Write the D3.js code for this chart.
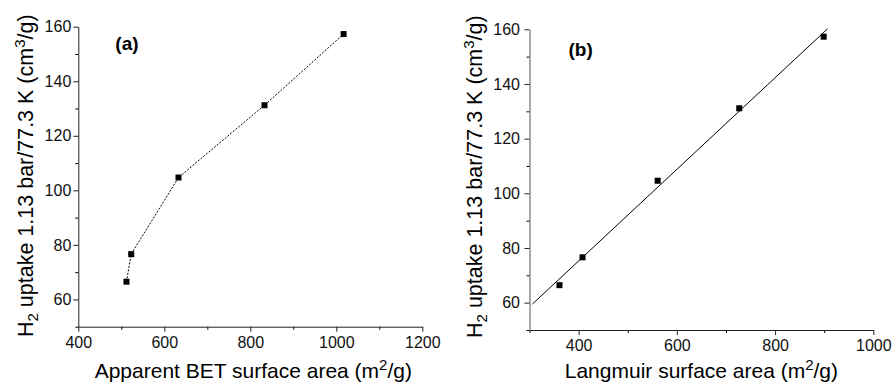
<!DOCTYPE html>
<html>
<head>
<meta charset="utf-8">
<script src="https://cdn.jsdelivr.net/npm/d3@7"></script>
<style>
  body { margin: 0; background: #fff; }
  svg { font-family: 'Liberation Sans', Arial, sans-serif; }
</style>
</head>
<body>
<div id="chart"></div>
<script>
// panel (a): BET surface area vs H2 uptake
const betArea = [512, 523, 633, 833, 1017];
const betUptake = [66.5, 76.6, 104.7, 131.2, 157.3];

// panel (b): Langmuir surface area vs H2 uptake
const langArea = [361, 408, 561, 727, 899];
const langUptake = [66.4, 76.6, 104.6, 131.1, 157.3];
// linear fit end points
const fitArea = [306, 907];
const fitUptake = [59.5, 160.2];

const yMajor = [60, 80, 100, 120, 140, 160];
const yMinor = [50, 70, 90, 110, 130, 150];
const aMajor = [400, 600, 800, 1000, 1200];
const aMinor = [500, 700, 900, 1100];
const bMajor = [400, 600, 800, 1000];
const bMinor = [300, 500, 700, 900];

const width = 896;
const height = 385;

const svg = d3.select('#chart').append('svg')
    .attr('width', width)
    .attr('height', height);

function drawPanel(p) {
    const g = svg.append('g')
        .attr('transform', `translate(${p.left},${p.top})`);

    const x = d3.scaleLinear().domain(p.xDomain).range([0, p.w]);
    const y = d3.scaleLinear().domain([50, 160]).range([p.h, 0]);

    // minor ticks
    g.append('g')
        .attr('transform', `translate(0,${p.h})`)
        .call(d3.axisBottom(x).tickValues(p.xMinor).tickSize(3).tickSizeOuter(0).tickFormat(''))
        .call(s => s.select('.domain').remove());
    g.append('g')
        .call(d3.axisLeft(y).tickValues(yMinor).tickSize(3).tickSizeOuter(0).tickFormat(''))
        .call(s => s.select('.domain').remove());

    const xAxis = g.append('g')
        .attr('transform', `translate(0,${p.h})`)
        .call(d3.axisBottom(x).tickValues(p.xMajor).tickSize(5).tickSizeOuter(0)
            .tickPadding(5).tickFormat(d3.format('d')));
    const yAxis = g.append('g')
        .call(d3.axisLeft(y).tickValues(yMajor).tickSize(5).tickSizeOuter(0)
            .tickPadding(p.yPad).tickFormat(d3.format('d')));

    [xAxis, yAxis].forEach(a => {
        a.attr('font-size', null).attr('font-family', null);
        a.selectAll('text').style('font-size', '16px').attr('fill', '#111');
        a.selectAll('line, path').attr('stroke', '#222');
    });
    yAxis.select('.domain').attr('stroke', p.yAxisColor);

    const line = d3.line().x(d => x(d[0])).y(d => y(d[1]));

    if (p.fit) {
        g.append('path')
            .datum(p.fit)
            .attr('d', line)
            .attr('fill', 'none')
            .attr('stroke', '#000')
            .attr('stroke-width', 1);
    }
    if (p.dashed) {
        g.append('path')
            .datum(p.pts)
            .attr('d', line)
            .attr('fill', 'none')
            .attr('stroke', '#000')
            .attr('stroke-width', 1)
            .attr('stroke-dasharray', '2,1.5');
    }

    g.selectAll('rect.pt')
        .data(p.pts)
        .enter()
        .append('rect')
        .attr('class', 'pt')
        .attr('x', d => x(d[0]) - 3)
        .attr('y', d => y(d[1]) - 3)
        .attr('width', 6)
        .attr('height', 6)
        .attr('fill', '#000');

    // panel tag
    g.append('text')
        .attr('x', p.tagX)
        .attr('y', p.tagY)
        .style('font-size', '19px')
        .attr('font-weight', 'bold')
        .text(p.tag);

    // x title
    const xt = g.append('text')
        .attr('x', p.w / 2 + p.xtShift)
        .attr('y', p.xtY)
        .attr('text-anchor', 'middle')
        .style('font-size', '21px');
    xt.append('tspan').text(p.xTitle);
    xt.append('tspan').style('font-size', '15px').attr('dy', -8).text('2');
    xt.append('tspan').attr('dy', 8).text('/g)');

    // y title
    const yt = g.append('text')
        .attr('transform', `translate(${p.ytX},${p.h / 2 + p.ytShift}) rotate(-90)`)
        .attr('text-anchor', 'middle')
        .style('font-size', '21.5px');
    yt.append('tspan').text('H');
    yt.append('tspan').style('font-size', '15px').attr('dy', 5).text('2');
    yt.append('tspan').attr('dy', -5).text(' uptake 1.13 bar/77.3 K (cm');
    yt.append('tspan').style('font-size', '15px').attr('dy', -8).text('3');
    yt.append('tspan').attr('dy', 8).text('/g)');
}

drawPanel({
    left: 78.3, top: 26.7, w: 344, h: 300,
    xDomain: [400, 1200], xMajor: aMajor, xMinor: aMinor,
    pts: betArea.map((v, i) => [v, betUptake[i]]),
    dashed: true, yPad: 2, yAxisColor: '#222',
    tag: '(a)', tagX: 37, tagY: 23,
    xTitle: 'Apparent BET surface area (m', xtShift: 3, xtY: 351,
    ytX: -45.3, ytShift: -1,
});

drawPanel({
    left: 529.5, top: 29.3, w: 343.8, h: 300.7,
    xDomain: [300, 1000], xMajor: bMajor, xMinor: bMinor,
    pts: langArea.map((v, i) => [v, langUptake[i]]),
    fit: fitArea.map((v, i) => [v, fitUptake[i]]),
    yPad: 4.5, yAxisColor: '#555',
    tag: '(b)', tagX: 39, tagY: 27,
    xTitle: 'Langmuir surface area (m', xtShift: 0, xtY: 349,
    ytX: -47.5, ytShift: -3,
});
</script>
</body>
</html>
